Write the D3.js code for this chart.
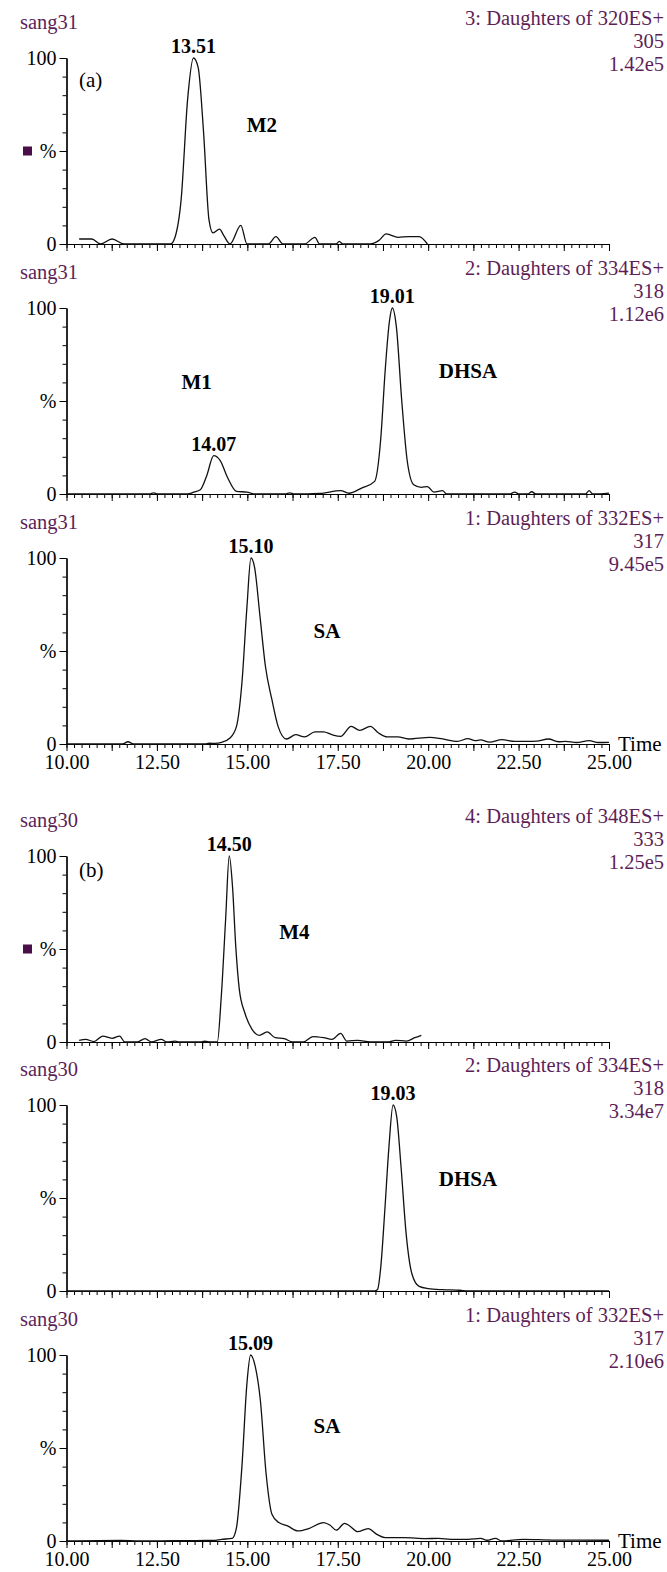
<!DOCTYPE html>
<html>
<head>
<meta charset="utf-8">
<script src="https://cdn.jsdelivr.net/npm/d3@7"></script>
<style>
  body { margin: 0; background: #fff; }
  svg text { font-family: "Liberation Serif", "Times New Roman", serif; }
</style>
</head>
<body>
<div id="chart"></div>
<script>
// chromatogram data (time in min, relative intensity %)
const p1Time = [10.35,10.70,10.94,11.26,11.59,12.88,13.0,13.17,13.35,13.51,13.64,13.79,13.94,14.05,14.23,14.35,14.52,14.82,14.99,15.58,15.79,15.99,16.58,16.87,17.0,17.46,17.54,17.64,18.40,18.63,18.84,19.17,19.46,19.75,19.98];
const p1Int  = [2.7,2.7,0,2.7,0,0,3.6,24,78,100,95,60,13,6,8,4.5,0,10,0,0,4,0,0,3.6,0,0,1.4,0,0,1.8,5.4,3.6,4,4,0];

const p2Time = [10.0,12.30,12.41,12.52,13.35,13.52,13.70,13.88,14.07,14.25,14.46,14.70,14.99,15.23,16.05,16.17,16.30,17.0,17.58,17.81,18.16,18.52,18.69,18.81,18.93,19.01,19.12,19.27,19.42,19.60,19.81,19.98,20.16,20.40,20.51,22.25,22.39,22.52,22.75,22.86,22.98,24.35,24.45,24.55,25.0];
const p2Int  = [0,0,0.6,0,0,1,2.3,10,20.6,18,8.6,1.4,1,0,0,0.6,0,0.3,1.8,0.4,3.2,6.8,30,66,93,100,90,50,18,5,3.6,4,1,1.8,0,0,1,0,0,1.2,0,0,1.8,0,0.5];

const p3Time = [10.0,11.55,11.70,11.85,13.82,13.95,14.10,14.29,14.52,14.70,14.85,14.99,15.10,15.20,15.35,15.50,15.68,15.85,16.08,16.34,16.58,16.87,17.11,17.34,17.58,17.87,18.11,18.40,18.63,18.87,19.16,19.46,20.04,20.40,20.81,21.10,21.30,21.45,21.70,22.04,22.40,22.75,23.0,23.33,23.60,23.80,24.10,24.45,24.70,25.0];
const p3Int  = [0,0,1.2,0,0,0.4,0.3,0.9,3.2,9.5,32.8,74,100,95,68.6,41.8,23.8,9.5,2.7,5,3.8,6.5,6.5,5,4.1,9.5,7.3,9.5,5.9,3.8,3.8,2.7,3.6,2.7,1.4,2.9,1.8,2.2,1.0,2.3,1.4,1.4,1.6,2.7,1.2,1.4,0.8,1.8,0.8,0.9];

const p4Time = [10.35,10.53,10.76,11.0,11.26,11.47,11.61,11.95,12.17,12.35,12.62,12.78,13.0,13.12,13.70,13.82,13.99,14.17,14.28,14.40,14.50,14.59,14.68,14.78,14.93,15.13,15.33,15.55,15.77,16.02,16.25,16.55,16.81,17.11,17.34,17.58,17.75,18.05,18.40,18.90,19.10,19.40,19.63,19.81];
const p4Int  = [0.9,1.4,0.2,3.2,2,3.2,0,0,1.8,0,1.4,0,0.5,0,0,0.4,0,0,24.6,66,100,83.6,51.4,28,15.7,6.8,3.6,5.4,2.3,1.8,0,0,2.9,2.3,1.4,4.6,0.5,0.9,0,0,0.9,0.5,2.3,3.6];

const p5Time = [10.0,18.52,18.60,18.69,18.80,18.91,19.03,19.13,19.25,19.39,19.55,19.75,20.0,20.40,20.87,21.10,25.0];
const p5Int  = [0,0,0.8,13,43,76,100,93.7,66.8,31,9.3,2.5,1.3,0.7,0.4,0,0];

const p6Time = [10.0,11.5,12.0,13.0,14.05,14.29,14.58,14.70,14.85,14.99,15.09,15.22,15.36,15.52,15.68,15.87,16.11,16.40,16.70,17.11,17.28,17.46,17.69,17.83,18.05,18.34,18.58,18.81,19.34,19.93,20.28,20.63,21.10,21.45,21.63,21.86,22.04,22.63,23.45,24.15,25.0];
const p6Int  = [0,0.3,0,0.2,0.3,0.9,1.4,7.2,40,85,100,93.7,75.7,36,14.4,9.9,8.1,5.4,6.7,9.9,8.6,5.8,9.5,8.1,5,6.7,3.6,1.8,1.8,1.3,1.4,0.9,0.9,1.4,0.4,1.4,0,0.9,0.5,0.5,0.4];

// panel texts
const sampleNames   = ["sang31","sang31","sang31","sang30","sang30","sang30"];
const channelTitles = ["3: Daughters of 320ES+","2: Daughters of 334ES+","1: Daughters of 332ES+",
                       "4: Daughters of 348ES+","2: Daughters of 334ES+","1: Daughters of 332ES+"];
const channelIons   = ["305","318","317","333","318","317"];
const channelMax    = ["1.42e5","1.12e6","9.45e5","1.25e5","3.34e7","2.10e6"];
const peakLabels    = [["13.51"],["14.07","19.01"],["15.10"],["14.50"],["19.03"],["15.09"]];
const peakTimes     = [[13.51],[14.07,19.01],[15.10],[14.50],[19.03],[15.09]];
const compounds     = [["M2"],["M1","DHSA"],["SA"],["M4"],["DHSA"],["SA"]];
const partLabels    = ["(a)","","","(b)","",""];
const xTickLabels   = [10, 12.5, 15, 17.5, 20, 22.5, 25];

const series = [[p1Time,p1Int],[p2Time,p2Int],[p3Time,p3Int],[p4Time,p4Int],[p5Time,p5Int],[p6Time,p6Int]];

// layout
const W = 667, H = 1572;
const top100 = [58, 308, 558, 856, 1105, 1355];
const plotH = 186;
const purple = "#5e1f58";

const svg = d3.select("#chart").append("svg")
    .attr("width", W).attr("height", H);

const x = d3.scaleLinear().domain([10, 25]).range([66.5, 609]);

// compound label placement (time, %)
const compoundPos = [[[15.4, 64]], [[13.6, 60], [21.1, 66]], [[17.2, 61]], [[16.3, 59]], [[21.1, 60]], [[17.2, 62]]];

const minorTicks = d3.range(0, 73).map(i => 10 + i * 2.5 / 12);
const majorTicks = d3.range(0, 13).map(i => 10 + i * 1.25);

series.forEach((s, i) => {
    const y = d3.scaleLinear().domain([0, 100]).range([top100[i] + plotH, top100[i]]);
    const g = svg.append("g");
    const showX = (i === 2 || i === 5);

    // y axis: minor ticks every 10, major at 0/50/100
    g.append("g")
        .attr("transform", `translate(${x(10)},0)`)
        .call(d3.axisLeft(y).tickValues(d3.range(0, 101, 10)).tickSize(4).tickSizeOuter(0).tickFormat(""));
    g.append("g")
        .attr("transform", `translate(${x(10)},0)`)
        .call(d3.axisLeft(y).tickValues([0, 50, 100]).tickSize(7).tickSizeOuter(0).tickPadding(3)
            .tickFormat(d => d === 50 ? "%" : d))
        .call(a => a.selectAll("text").style("font-size", "20px").attr("fill", "#000"));

    if (i === 0 || i === 3) {
        g.append("rect")
            .attr("x", 23).attr("y", y(50) - 4.5)
            .attr("width", 9).attr("height", 9)
            .attr("fill", "#4a0f48");
    }

    // x axis
    const xa = g.append("g").attr("transform", `translate(0,${y(0)})`);
    xa.call(d3.axisBottom(x).tickValues(minorTicks).tickSize(4).tickSizeOuter(0).tickFormat(""));
    const xb = g.append("g").attr("transform", `translate(0,${y(0)})`);
    xb.call(d3.axisBottom(x).tickValues(majorTicks).tickSize(7).tickSizeOuter(0).tickPadding(4)
        .tickFormat(d => (showX && xTickLabels.some(v => Math.abs(v - d) < 1e-6)) ? d.toFixed(2) : ""));
    xb.selectAll("text").style("font-size", "20px").attr("fill", "#000");
    g.selectAll(".domain").attr("stroke", "#000").attr("stroke-width", 1.2);
    g.selectAll(".tick line").attr("stroke", "#000").attr("stroke-width", 1);

    if (showX) {
        g.append("text")
            .attr("x", x(25) + 9).attr("y", y(0))
            .attr("dominant-baseline", "central")
            .style("font-size", "21px")
            .text("Time");
    }

    // trace
    const line = d3.line()
        .x((d, k) => x(s[0][k]))
        .y(d => y(d))
        .curve(d3.curveMonotoneX);
    g.append("path")
        .datum(s[1])
        .attr("fill", "none")
        .attr("stroke", "#111")
        .attr("stroke-width", 1.3)
        .attr("d", line);

    // header texts
    g.append("text")
        .attr("x", 20).attr("y", top100[i] - 36)
        .attr("dominant-baseline", "central")
        .attr("fill", purple).style("font-size", "20.5px")
        .text(sampleNames[i]);
    [channelTitles[i], channelIons[i], channelMax[i]].forEach((t, k) => {
        g.append("text")
            .attr("x", 664).attr("y", top100[i] - 40 + k * 23)
            .attr("text-anchor", "end")
            .attr("dominant-baseline", "central")
            .attr("fill", purple).style("font-size", "20.5px")
            .text(t);
    });

    // peak labels
    peakTimes[i].forEach((pt, k) => {
        const k0 = s[0].indexOf(pt);
        const v = k0 >= 0 ? s[1][k0] : 100;
        g.append("text")
            .attr("x", x(pt)).attr("y", y(v) - 12)
            .attr("text-anchor", "middle")
            .attr("dominant-baseline", "central")
            .style("font-size", "20px").style("font-weight", "bold")
            .text(peakLabels[i][k]);
    });

    compounds[i].forEach((c, k) => {
        const p = compoundPos[i][k];
        g.append("text")
            .attr("x", x(p[0])).attr("y", y(p[1]))
            .attr("text-anchor", "middle")
            .attr("dominant-baseline", "central")
            .style("font-size", "21px").style("font-weight", "bold")
            .text(c);
    });

    if (partLabels[i]) {
        g.append("text")
            .attr("x", 79).attr("y", top100[i] + (i === 0 ? 22 : 14))
            .attr("dominant-baseline", "central")
            .style("font-size", "21px")
            .text(partLabels[i]);
    }
});
</script>
</body>
</html>
